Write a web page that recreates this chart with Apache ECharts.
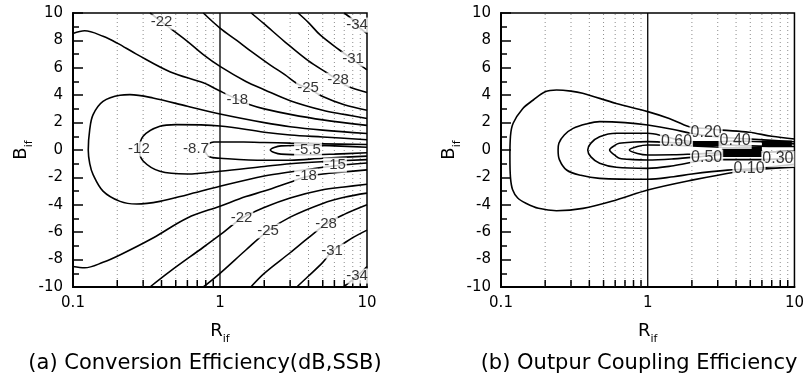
<!DOCTYPE html>
<html>
<head>
<meta charset="utf-8">
<script src="https://cdn.jsdelivr.net/npm/echarts@6/dist/echarts.min.js"></script>
<style>
  html, body { margin: 0; padding: 0; background: #fff; }
  #chart { width: 807px; height: 379px; }
</style>
</head>
<body>
<div id="chart"></div>
<script>
// axis ranges and grid positions (R_if is log scale)
const R_MIN = 0.1, R_MAX = 10, B_MIN = -10, B_MAX = 10;
const minorR = [0.2, 0.3, 0.4, 0.5, 0.6, 0.7, 0.8, 0.9, 2, 3, 4, 5, 6, 7, 8, 9];
const dividerR = [1];

// (a) conversion efficiency contours, [R_if, B_if]
const a34up = [[7.0, 10], [8.0, 9.5], [8.55, 9.1], [10, 8.5]];
const a31up = [[3.4, 10], [4.0, 9.3], [4.8, 8.4], [6.5, 7.3], [8.0, 6.6], [10, 5.85]];
const a28up = [[1.63, 10], [2.0, 9.2], [2.76, 7.9], [4.0, 6.5], [5.4, 5.6], [6.35, 5.1], [7.4, 4.65], [10, 4.2]];
const a25up = [[0.77, 10], [1.0, 8.9], [1.3, 8.0], [1.63, 7.2], [2.2, 6.2], [2.76, 5.5], [3.4, 4.8], [4.0, 4.5], [5.0, 3.9], [7.0, 3.3], [10, 2.9]];
const a22up = [[0.334, 10], [0.457, 8.9], [0.6, 7.93], [0.77, 6.96], [1.0, 6.1], [1.5, 5.0], [2.0, 4.4], [3.0, 3.6], [5.0, 2.9], [7.0, 2.6], [10, 2.3]];
const a18up = [[0.1, 8.5], [0.12, 8.7], [0.16, 8.3], [0.2, 7.8], [0.27, 7.0], [0.46, 5.7], [0.77, 4.9], [1.0, 4.3], [1.31, 3.7], [1.6, 3.3], [2.0, 3.0], [3.0, 2.6], [5.0, 2.2], [10, 1.8]];
const a18low = [[0.1, -8.5], [0.12, -8.6], [0.16, -8.2], [0.21, -7.64], [0.35, -6.42], [0.6, -4.96], [1.0, -4.1], [1.5, -3.4], [2.0, -3.0], [3.0, -2.35], [3.85, -1.95], [5.0, -1.75], [7.0, -1.6], [10, -1.45]];
const a15 = [[10, 1.2], [5, 1.45], [3, 1.7], [2, 2.0], [1, 2.63], [0.6, 3.19], [0.35, 3.8], [0.244, 4.04], [0.209, 4.0], [0.16, 3.55], [0.137, 2.58], [0.13, 1.5], [0.127, 0], [0.13, -1.0], [0.137, -1.8], [0.16, -3.0], [0.209, -3.75], [0.271, -3.94], [0.39, -3.75], [0.6, -3.26], [1, -2.65], [2, -1.9], [3, -1.6], [6.06, -1.15], [10, -0.95]];
const a12 = [[10, 0.75], [5, 0.95], [3, 1.1], [2, 1.3], [1, 1.75], [0.5, 1.85], [0.39, 1.73], [0.3, 1.0], [0.283, 0], [0.3, -0.8], [0.39, -1.55], [0.6, -1.75], [1, -1.55], [2, -1.2], [3, -1.0], [5, -0.85], [10, -0.7]];
const a87 = [[10, 0.4], [5, 0.45], [3, 0.5], [2, 0.55], [1, 0.6], [0.85, 0.5], [0.79, 0], [0.85, -0.5], [1, -0.6], [2, -0.75], [3, -0.75], [5, -0.6], [10, -0.45]];
const a55 = [[10, 0.2], [6, 0.3], [4, 0.35], [2.6, 0.3], [2.2, 0], [2.6, -0.3], [4, -0.35], [6, -0.3], [10, -0.2]];
const a22low = [[0.334, -10], [0.457, -8.86], [0.77, -7.1], [1.0, -6.2], [1.4, -5.0], [2.0, -4.2], [3.0, -3.5], [5.0, -2.9], [7.0, -2.7], [10, -2.5]];
const a25low = [[0.77, -10], [1.0, -9.0], [1.5, -7.3], [2.12, -5.9], [3.0, -4.9], [5.0, -3.9], [7.0, -3.45], [10, -3.15]];
const a28low = [[1.62, -10], [2.0, -9.0], [3.0, -7.5], [4.0, -6.4], [5.26, -5.4], [7.0, -4.7], [10, -4.0]];
const a31low = [[3.33, -10], [4.0, -9.2], [5.0, -8.2], [5.78, -7.4], [7.0, -6.8], [8.0, -6.4], [10, -5.85]];
const a34low = [[6.9, -10], [8.55, -9.2], [10, -8.5]];
const aLabels = [
  [0.40, 9.34, '-22'], [1.31, 3.65, '-18'], [3.97, 4.53, '-25'], [6.35, 5.1, '-28'],
  [8.03, 6.64, '-31'], [8.55, 9.12, '-34'], [0.281, 0.07, '-12'], [0.687, 0.07, '-8.7'],
  [3.97, 0.0, '-5.5'], [6.06, -1.1, '-15'], [3.85, -1.9, '-18'], [1.40, -4.93, '-22'],
  [2.12, -5.9, '-25'], [5.26, -5.4, '-28'], [5.78, -7.37, '-31'], [8.55, -9.2, '-34']
];

// (b) output coupling efficiency contours
const b1 = [[10, 0.8], [7, 1.0], [4.9, 1.3], [3.2, 1.45], [2.6, 1.55], [1.92, 1.7], [1.4, 2.3], [1, 2.8], [0.61, 3.4], [0.36, 4.14], [0.3, 4.3], [0.239, 4.38], [0.2, 4.25], [0.166, 3.65], [0.14, 3.0], [0.121, 1.95], [0.116, 1.0], [0.115, -0.5], [0.116, -2.0], [0.12, -2.9], [0.13, -3.5], [0.149, -3.9], [0.18, -4.25], [0.239, -4.43], [0.362, -4.26], [0.61, -3.65], [1, -2.92], [2, -2.2], [4, -1.6], [6, -1.4], [10, -1.25]];
const b2 = [[10, 0.6], [5, 0.8], [3, 0.95], [2, 1.2], [1.5, 1.5], [1, 1.82], [0.7, 2.0], [0.47, 2.07], [0.38, 1.9], [0.31, 1.58], [0.27, 1.1], [0.248, 0.5], [0.245, 0], [0.25, -0.7], [0.28, -1.46], [0.35, -1.85], [0.47, -2.07], [1, -2.14], [1.5, -1.95], [2, -1.75], [3.5, -1.47], [4.9, -1.39], [7, -1.22], [10, -1.05]];
const b3 = [[10, 0.45], [6, 0.6], [3.94, 0.66], [3.2, 0.62], [2.3, 0.6], [1.6, 0.75], [1.3, 1.0], [1, 1.22], [0.61, 1.22], [0.47, 0.97], [0.41, 0.5], [0.39, 0], [0.41, -0.5], [0.47, -0.97], [0.61, -1.26], [1, -1.34], [1.5, -1.15], [2, -0.9], [2.52, -0.7], [3.5, -0.7], [5.5, -0.7], [7.71, -0.66], [10, -0.6]];
const b4 = [[10, 0.25], [5, 0.3], [3, 0.4], [2, 0.5], [1.4, 0.55], [1, 0.61], [0.8, 0.58], [0.64, 0.49], [0.6, 0.35], [0.55, 0], [0.6, -0.4], [0.64, -0.6], [0.8, -0.7], [1, -0.73], [1.5, -0.65], [2.2, -0.5], [3, -0.35], [5, -0.2], [10, -0.1]];
const b5 = [[3.2, 0.2], [2, 0.3], [1.5, 0.35], [1, 0.36], [0.85, 0.25], [0.75, 0], [0.85, -0.25], [1, -0.36], [1.5, -0.35], [2, -0.3], [3.2, -0.2]];
// dense clumps where the label lines pile up
const bClump1 = [[2.0, 0.47], [3.2, 0.47]];
const bClump2 = [[3.2, -0.15], [6.0, -0.15]];
const bClump3 = [[6.0, 0.47], [9.6, 0.47]];
const bLabels = [
  [2.50, 1.24, '0.20'], [1.57, 0.58, '0.60'], [3.94, 0.66, '0.40'],
  [2.52, -0.55, '0.50'], [7.71, -0.66, '0.30'], [4.90, -1.39, '0.10']
];

const chart = echarts.init(document.getElementById('chart'), null, { renderer: 'canvas' });

const tickFont = 'DejaVu Sans';

function contour(data, g, width) {
  return {
    type: 'line', xAxisIndex: g, yAxisIndex: g, data,
    showSymbol: false, symbol: 'none', smooth: 0.35,
    lineStyle: { color: '#000', width: width || 1.6, cap: 'butt' },
    z: 3, silent: true, animation: false
  };
}

function clump(data, g, width) {
  return {
    type: 'line', xAxisIndex: g, yAxisIndex: g, data,
    showSymbol: false, symbol: 'none',
    lineStyle: { color: '#000', width, cap: 'butt' },
    z: 3, silent: true, animation: false
  };
}

function labelSeries(list, g, size) {
  return {
    type: 'scatter', xAxisIndex: g, yAxisIndex: g, symbolSize: 1,
    itemStyle: { color: 'rgba(0,0,0,0)' },
    data: list.map((d) => ({ value: [d[0], d[1]], name: d[2] })),
    label: {
      show: true, position: 'inside', formatter: '{b}',
      color: '#000', fontSize: size, fontFamily: 'Liberation Sans',
      backgroundColor: '#fff', padding: [0, 1]
    },
    z: 5, silent: true, animation: false
  };
}

function gridDecor(g) {
  const items = minorR.map((v) => [v, B_MIN, 0]).concat(dividerR.map((v) => [v, B_MIN, 1]));
  return {
    type: 'custom', xAxisIndex: g, yAxisIndex: g, silent: true, z: 1, animation: false,
    data: items,
    renderItem(params, api) {
      const x = api.value(0);
      const lo = api.coord([x, B_MIN]);
      const hi = api.coord([x, B_MAX]);
      if (api.value(2) === 1) {
        return { type: 'line', shape: { x1: lo[0], y1: lo[1], x2: hi[0], y2: hi[1] }, style: { stroke: '#000', lineWidth: 1.3 } };
      }
      return {
        type: 'group',
        children: [
          { type: 'line', shape: { x1: lo[0], y1: lo[1], x2: hi[0], y2: hi[1] }, style: { stroke: '#8c8c8c', lineWidth: 1, lineDash: [1, 3] } },
          { type: 'line', shape: { x1: lo[0], y1: lo[1], x2: lo[0], y2: lo[1] - 7 }, style: { stroke: '#000', lineWidth: 1.5 } }
        ]
      };
    }
  };
}

function xAxis(g) {
  return {
    type: 'log', logBase: 10, min: R_MIN, max: R_MAX, gridIndex: g,
    axisLine: { show: true, onZero: false, lineStyle: { color: '#000', width: 2 } },
    axisTick: { show: false },
    splitLine: { show: false },
    axisLabel: { color: '#000', fontSize: 15, fontFamily: tickFont, margin: 9 },
    name: '{m|R}{s|if}', nameLocation: 'middle', nameGap: 31,
    nameTextStyle: {
      rich: {
        m: { fontSize: 18, fontFamily: tickFont, color: '#000' },
        s: { fontSize: 11, fontFamily: tickFont, color: '#000', padding: [16, 0, 0, 0] }
      }
    }
  };
}

function yAxis(g) {
  return {
    type: 'value', min: B_MIN, max: B_MAX, interval: 2, gridIndex: g,
    axisLine: { show: true, onZero: false, lineStyle: { color: '#000', width: 2 } },
    axisTick: { show: true, inside: true, length: 10, lineStyle: { color: '#000', width: 1.5 } },
    minorTick: { show: true, splitNumber: 2, length: 6, lineStyle: { color: '#000', width: 1.5 } },
    splitLine: { show: false },
    axisLabel: { color: '#000', fontSize: 15, fontFamily: tickFont, margin: 10 },
    name: '{m|B}{s|if}', nameLocation: 'middle', nameRotate: 90, nameGap: 38,
    nameTextStyle: {
      rich: {
        m: { fontSize: 18, fontFamily: tickFont, color: '#000' },
        s: { fontSize: 11, fontFamily: tickFont, color: '#000', padding: [16, 0, 0, 0] }
      }
    }
  };
}

const panelA = [a34up, a31up, a28up, a25up, a22up, a18up, a18low, a15, a12, a87, a55, a22low, a25low, a28low, a31low, a34low];
const panelB = [b1, b2, b3, b4, b5];

const option = {
  backgroundColor: '#fff',
  animation: false,
  grid: [
    { left: 73, top: 13, width: 294, height: 274, show: true, borderColor: '#000', borderWidth: 1.5, backgroundColor: 'transparent' },
    { left: 501, top: 13, width: 294, height: 274, show: true, borderColor: '#000', borderWidth: 1.5, backgroundColor: 'transparent' }
  ],
  xAxis: [xAxis(0), xAxis(1)],
  yAxis: [yAxis(0), yAxis(1)],
  graphic: [
    { type: 'text', x: 205, y: 364, style: { text: '(a) Conversion Efficiency(dB,SSB)', font: '21px "DejaVu Sans"', fill: '#000', align: 'center', verticalAlign: 'middle' } },
    { type: 'text', x: 639, y: 364, style: { text: '(b) Outpur Coupling Efficiency', font: '21px "DejaVu Sans"', fill: '#000', align: 'center', verticalAlign: 'middle' } }
  ],
  series: [
    gridDecor(0), gridDecor(1),
    ...panelA.map((d) => contour(d, 0)),
    ...panelB.map((d) => contour(d, 1)),
    clump(bClump1, 1, 5), clump(bClump2, 1, 10), clump(bClump3, 1, 6),
    labelSeries(aLabels, 0, 15),
    labelSeries(bLabels, 1, 16)
  ]
};

chart.setOption(option);
</script>
</body>
</html>
